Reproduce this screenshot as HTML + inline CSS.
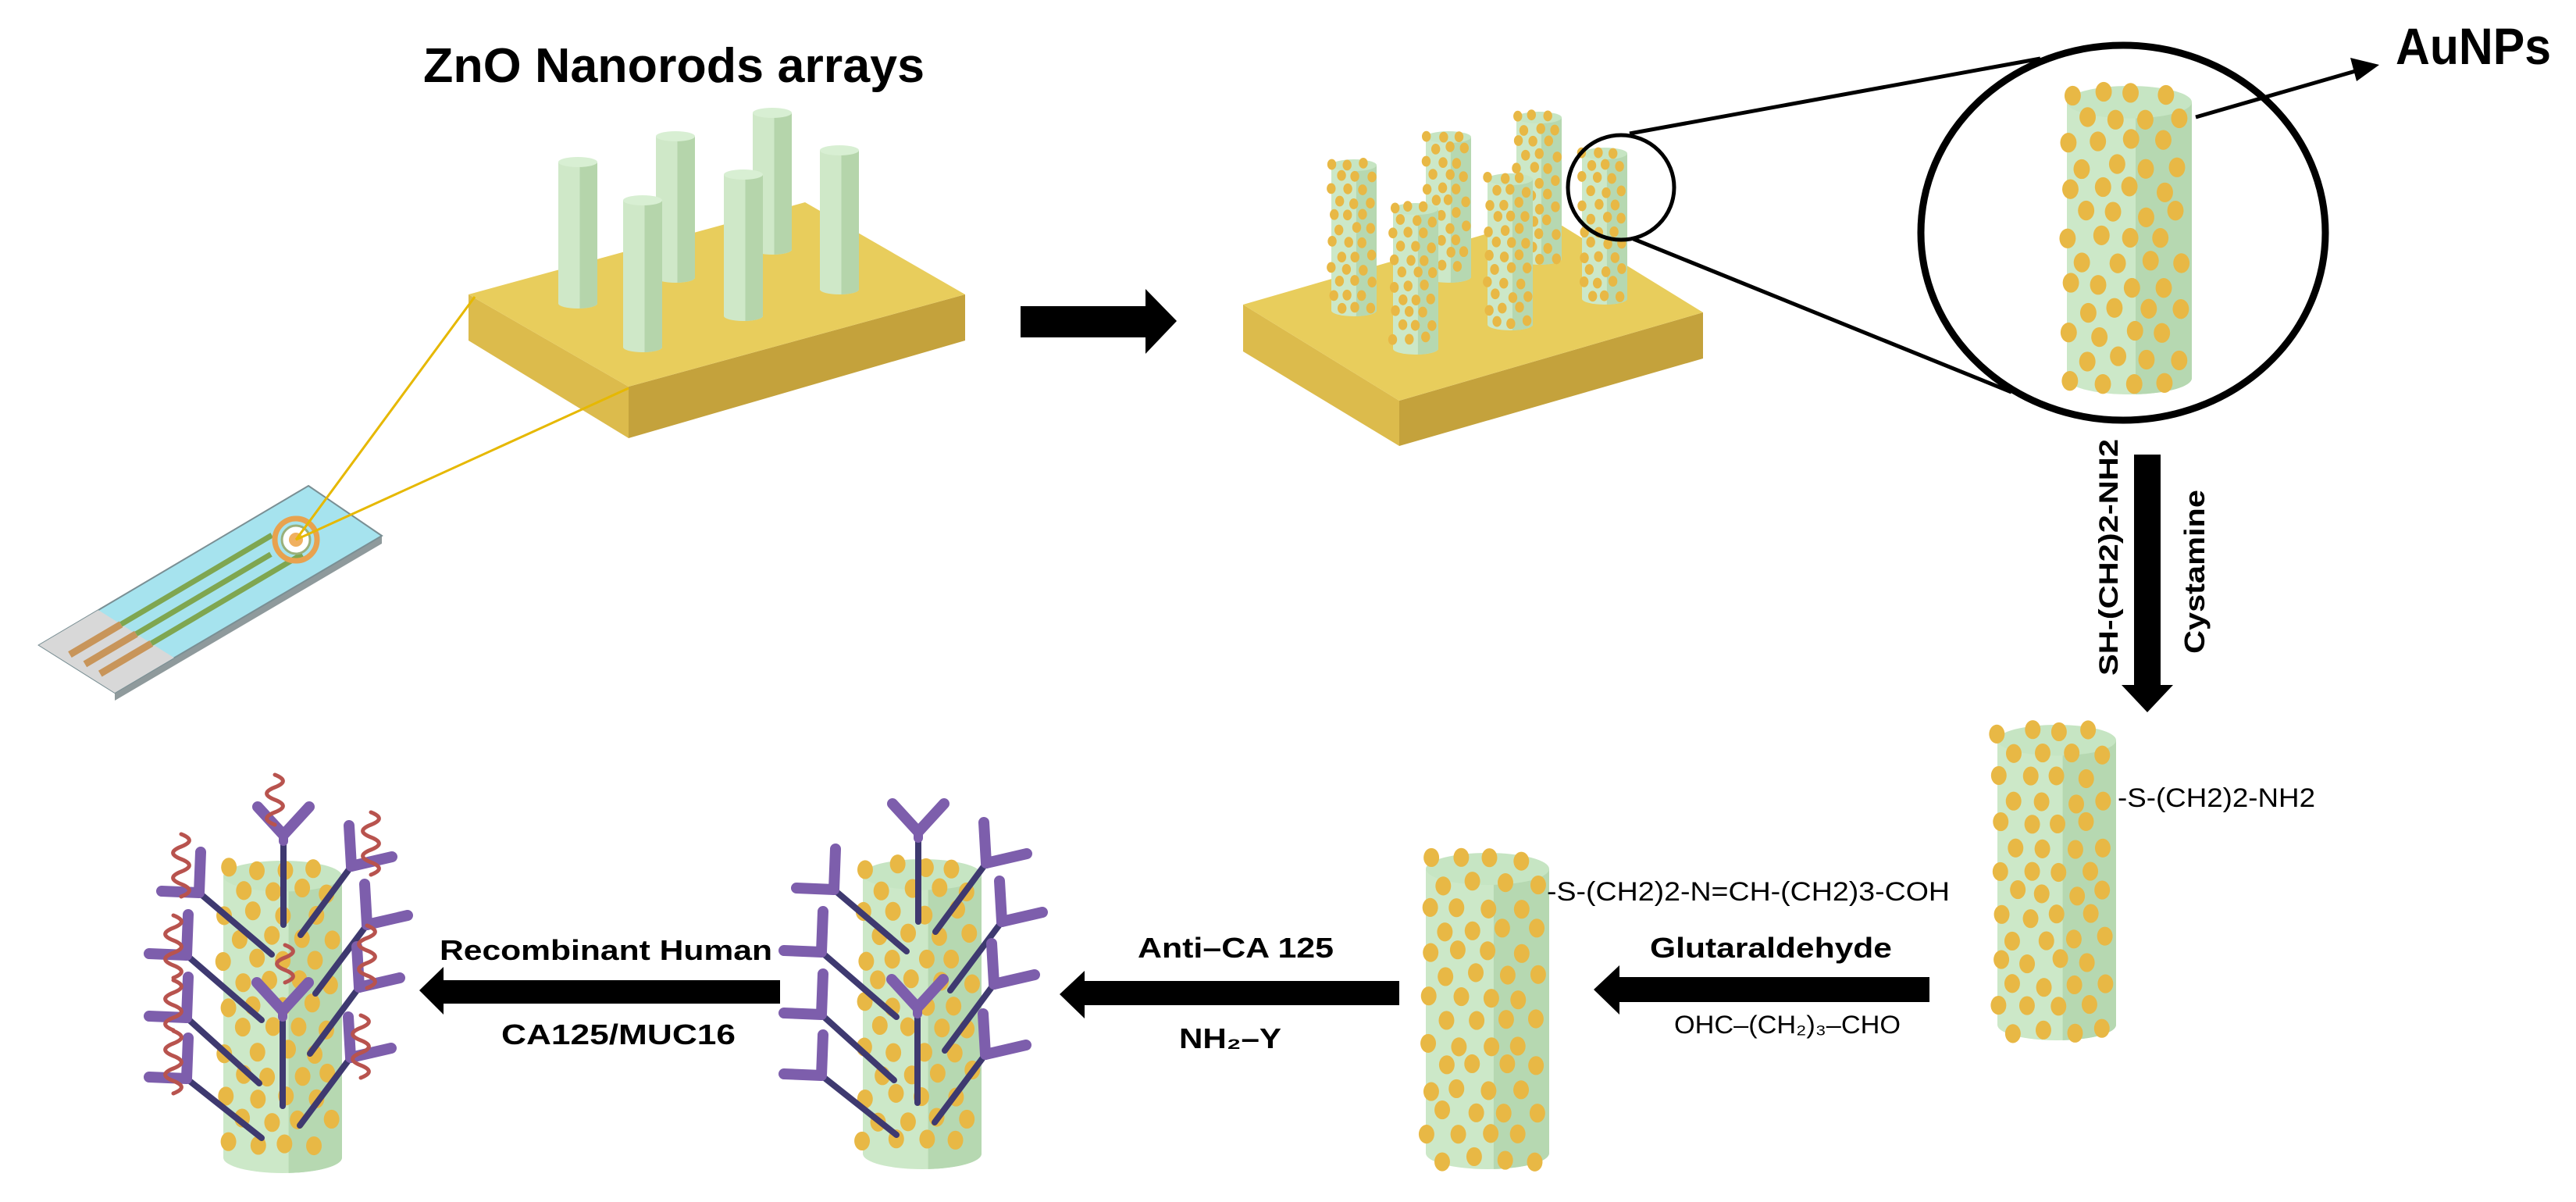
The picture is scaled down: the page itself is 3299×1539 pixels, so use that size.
<!DOCTYPE html>
<html><head><meta charset="utf-8"><style>
html,body{margin:0;padding:0;background:#fff;}
svg{display:block;}
text{font-family:"Liberation Sans Narrow","Liberation Sans",sans-serif;fill:#000;}
</style></head><body>
<svg id="s" xmlns="http://www.w3.org/2000/svg" width="3299" height="1539" viewBox="0 0 3299 1539">
<rect width="3299" height="1539" fill="#fff"/>
<g id="strip"></g>
<polygon points="600,377 805,495 805,561 600,436" fill="#dcbb4c"/>
<polygon points="805,495 1236,377 1236,436 805,561" fill="#c4a23c"/>
<polygon points="600,377 1031,259 1236,377 805,495" fill="#e8cd5c"/>
<g id="zno"></g>
<line x1="379" y1="691" x2="608" y2="380" stroke="#e6b800" stroke-width="3"/>
<line x1="379" y1="691" x2="805" y2="497" stroke="#e6b800" stroke-width="3"/>
<polygon points="1592,390 1792,513 1792,571 1592,450" fill="#dcbb4c"/>
<polygon points="1792,513 2181,400 2181,459 1792,571" fill="#c4a23c"/>
<polygon points="1592,390 1981,277 2181,400 1792,513" fill="#e8cd5c"/>
<g id="rods2"></g>
<line x1="2087" y1="171" x2="2613" y2="75" stroke="#000" stroke-width="5"/>
<line x1="2092" y1="306" x2="2576" y2="502" stroke="#000" stroke-width="5"/>
<ellipse cx="2076" cy="240" rx="68" ry="67" fill="none" stroke="#000" stroke-width="5"/>
<ellipse cx="2719" cy="298" rx="259" ry="240" fill="#fff" stroke="#000" stroke-width="9"/>
<g id="bigrod"></g>
<line x1="2812" y1="150" x2="3020" y2="90" stroke="#000" stroke-width="5"/>
<polygon points="3047,83 3010,74 3018,104" fill="#000"/>
<text x="3068" y="82" font-size="66" font-weight="bold" textLength="199" lengthAdjust="spacingAndGlyphs">AuNPs</text>
<text x="542" y="105" font-size="62" font-weight="bold" textLength="642" lengthAdjust="spacingAndGlyphs">ZnO Nanorods arrays</text>
<polygon points="1307,392 1467,392 1467,370 1507,411 1467,453 1467,432 1307,432" fill="#000"/>
<polygon points="2733,582 2767,582 2767,877 2783,877 2750,912 2717,877 2733,877" fill="#000"/>
<polygon points="2471,1251 2074,1251 2074,1236 2041,1267 2074,1299 2074,1283 2471,1283" fill="#000"/>
<polygon points="1792,1256 1389,1256 1389,1243 1357,1273 1389,1304 1389,1287 1792,1287" fill="#000"/>
<polygon points="999,1255 568,1255 568,1238 537,1268 568,1299 568,1285 999,1285" fill="#000"/>
<text transform="translate(2712,865) rotate(-90)" font-size="34" font-weight="bold" textLength="303" lengthAdjust="spacingAndGlyphs">SH-(CH2)2-NH2</text>
<text transform="translate(2823,837) rotate(-90)" font-size="36" font-weight="bold" textLength="210" lengthAdjust="spacingAndGlyphs">Cystamine</text>
<g id="rodsb"></g>
<text x="2712" y="1033" font-size="34" textLength="253" lengthAdjust="spacingAndGlyphs">-S-(CH2)2-NH2</text>
<text x="1981" y="1153" font-size="34" textLength="516" lengthAdjust="spacingAndGlyphs">-S-(CH2)2-N=CH-(CH2)3-COH</text>
<text x="2113" y="1226" font-size="36" font-weight="bold" textLength="310" lengthAdjust="spacingAndGlyphs">Glutaraldehyde</text>
<text x="2144" y="1323" font-size="32" textLength="290" lengthAdjust="spacingAndGlyphs">OHC–(CH₂)₃–CHO</text>
<text x="1457" y="1226" font-size="36" font-weight="bold" textLength="251" lengthAdjust="spacingAndGlyphs">Anti–CA 125</text>
<text x="1510" y="1342" font-size="36" font-weight="bold" textLength="131" lengthAdjust="spacingAndGlyphs">NH₂–Y</text>
<text x="563" y="1229" font-size="36" font-weight="bold" textLength="426" lengthAdjust="spacingAndGlyphs">Recombinant Human</text>
<text x="642" y="1337" font-size="36" font-weight="bold" textLength="300" lengthAdjust="spacingAndGlyphs">CA125/MUC16</text>
<g id="ab2"></g>
<g id="ab1"></g>
<g id="sq"></g>
</svg>
<script>
var NS="http://www.w3.org/2000/svg";
function el(p,t,a){var e=document.createElementNS(NS,t);for(var k in a)e.setAttribute(k,a[k]);p.appendChild(e);return e;}
var seed=7;function rnd(){seed=(seed*9301+49297)%233280;return seed/233280;}
function G(id){return document.getElementById(id);}
function rod(g,x,y,w,h,r,opt){
  opt=opt||{};
  var e=w*0.13,cx=x+w/2;
  var light=opt.light||"#cce8c8",dark=opt.dark||"#b6d8b1",top=opt.top||"#c6e5c3";
  el(g,"path",{d:"M"+x+","+(y+e)+"L"+x+","+(y+h-e)+"A"+(w/2)+","+e+" 0 0 0 "+(x+w)+","+(y+h-e)+"L"+(x+w)+","+(y+e)+"Z",fill:light});
  var xm=x+w*0.55,t=(xm-cx)/(w/2),yb=y+h-e+e*Math.sqrt(1-t*t);
  el(g,"path",{d:"M"+xm+","+(y+e)+"L"+xm+","+yb+"A"+(w/2)+","+e+" 0 0 0 "+(x+w)+","+(y+h-e)+"L"+(x+w)+","+(y+e)+"Z",fill:dark});
  el(g,"ellipse",{cx:cx,cy:y+e,rx:w/2,ry:e,fill:top});
  if(!r)return;
  var n=Math.max(3,Math.round(w/(r*3.4))),i=0;
  for(var yy=y+r*0.9;yy<y+h-r*0.8;yy+=r*2.8,i++){
    for(var j=0;j<=n;j++){
      var xx=x+(j+(i%2?0.5:0))*w/n+r*0.3;
      if(xx>x+w+r*0.2)continue;
      el(g,"ellipse",{cx:xx+(rnd()-0.5)*r*0.8,cy:yy+(rnd()-0.5)*r*0.8,rx:r*0.95,ry:r*1.15,fill:"#e8b845"});
    }
  }
}
var z=G("zno");
[[989,138,326],[865,168,362],[1075,186,377],[740,201,395],[952,217,411],[823,250,451]].forEach(function(a){
  rod(z,a[0]-25,a[1],50,a[2]-a[1],0,{light:"#cfe8c8",dark:"#b5d5ab",top:"#d8efd3"});});
var r2=G("rods2");
[[1971,143,339],[1855,168,362],[2055,189,390],[1734,204,405],[1934,222,423],[1813,260,454]].forEach(function(a){
  rod(r2,a[0]-29,a[1],58,a[2]-a[1],6);});
rod(G("bigrod"),2647,110,160,395,11);
var rb=G("rodsb");
rod(rb,2558,928,152,404,10.5);
rod(rb,1826,1092,158,405,10.5);
rod(rb,1105,1100,152,397,10.5);
rod(rb,286,1102,152,400,10.5);
var st=G("strip");
var A=[395,622],B=[489,686],C=[147,887],D=[50,826];
function P(s,t){return [D[0]+s*(A[0]-D[0])+t*(C[0]-D[0]),D[1]+s*(A[1]-D[1])+t*(C[1]-D[1])];}
function pts(a){return a.map(function(p){return p[0]+","+p[1];}).join(" ");}
el(st,"polygon",{points:pts([[D[0],D[1]],[C[0],C[1]],[C[0],C[1]+10],[B[0],B[1]+10],[B[0],B[1]]]),fill:"#8f9a9c"});
el(st,"polygon",{points:pts([A,B,C,D]),fill:"#a6e3ee",stroke:"#7a8f94","stroke-width":2});
el(st,"polygon",{points:pts([P(0,0),P(0.22,0),P(0.22,1),P(0,1)]),fill:"#d8d8d8"});
[0.3,0.5,0.7].forEach(function(t){
  var a=P(0.03,t),b=P(0.22,t),c=P(t==0.5?0.72:0.78,t);
  el(st,"line",{x1:a[0],y1:a[1],x2:b[0],y2:b[1],stroke:"#c8955a","stroke-width":9});
  el(st,"line",{x1:b[0],y1:b[1],x2:c[0],y2:c[1],stroke:"#7fa650","stroke-width":7});
});
el(st,"circle",{cx:379,cy:691,r:27,fill:"none",stroke:"#e8a24f","stroke-width":7});
el(st,"circle",{cx:379,cy:691,r:18,fill:"#fff",stroke:"#9ab07a","stroke-width":3});
el(st,"circle",{cx:379,cy:691,r:9,fill:"#f0b060"});
function ab(g){
  var pu="#7d5eac",dk="#3e3970";
  function line(a,b,c,d,col,w){el(g,"line",{x1:a,y1:b,x2:c,y2:d,stroke:col,"stroke-width":w,"stroke-linecap":"round"});}
  function Y(fx,fy,sy){line(fx,fy,fx,sy,dk,8);line(fx,fy,fx-33,fy-36,pu,14);line(fx,fy,fx+33,fy-36,pu,14);line(fx,fy,fx,fy+8,pu,12);}
  function Lr(cx,cy,ex,ey){line(cx,cy,ex,ey,dk,8);line(cx,cy,cx-3,cy-52,pu,14);line(cx,cy,cx+52,cy-12,pu,14);}
  function Ll(cx,cy,ex,ey){line(cx,cy,ex,ey,dk,8);line(cx,cy,cx+2,cy-52,pu,14);line(cx,cy,cx-48,cy-2,pu,14);}
  Ll(1068,1139,1161,1218);Ll(1052,1219,1148,1302);Ll(1052,1299,1145,1383);Ll(1052,1377,1148,1453);
  Lr(1263,1105,1198,1193);Lr(1283,1180,1217,1268);Lr(1273,1260,1210,1345);Lr(1262,1350,1197,1437);
  Y(1176,1065,1180);Y(1175,1290,1412);
}
ab(G("ab2"));
var g1=G("ab1");g1.setAttribute("transform","translate(-813,4)");ab(g1);
var sq=G("sq");
function squig(x,y0,y1){
  var d="M"+x+","+y0,per=32,amp=13,k=0;
  for(var y=y0;y<y1;y+=per/2,k++){var s=(k%2?-1:1)*amp;d+=" Q"+(x+s*1.6)+","+(y+per/4)+" "+x+","+(y+per/2);}
  el(sq,"path",{d:d,fill:"none",stroke:"#b8534e","stroke-width":5,"stroke-linecap":"round"});
}
squig(352,992,1042);squig(232,1068,1140);squig(222,1172,1240);squig(222,1255,1318);squig(222,1320,1398);
squig(475,1040,1115);squig(470,1185,1252);squig(462,1300,1375);squig(365,1210,1258);
</script>
</body></html>
